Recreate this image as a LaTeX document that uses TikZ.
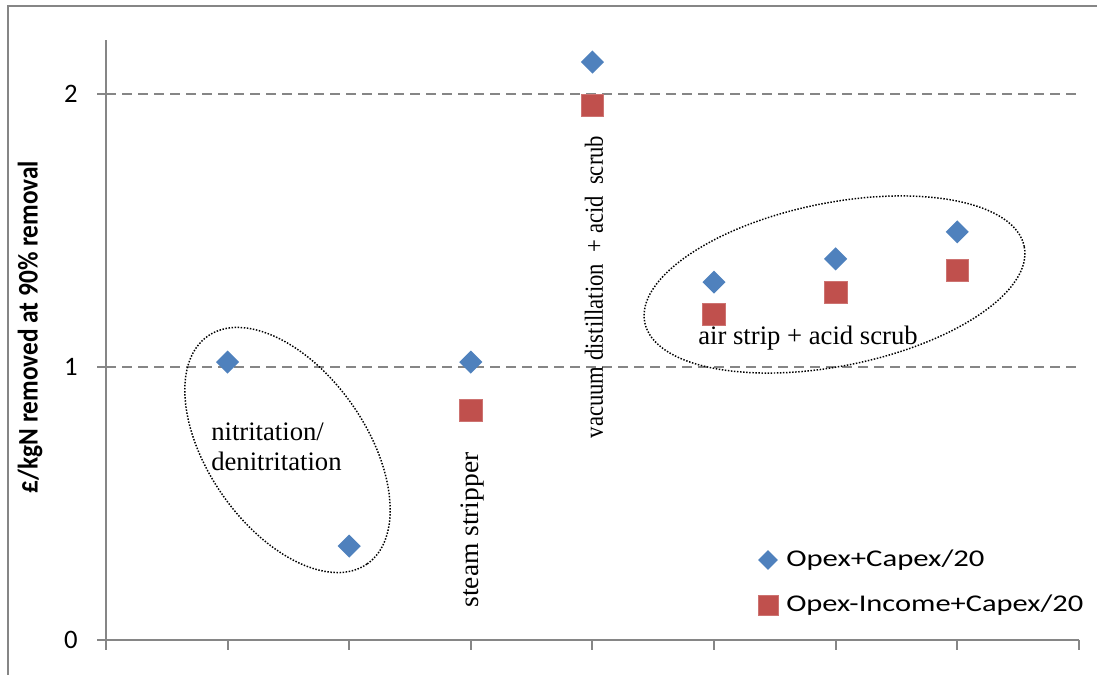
\documentclass[tikz,border=0pt]{standalone}
\usepackage{fontspec}
\setmainfont{Liberation Serif}
\newfontfamily\calib{Carlito}
\usetikzlibrary{shapes.geometric}
\definecolor{axisgray}{HTML}{868686}
\definecolor{seriesblue}{HTML}{4F81BD}
\definecolor{seriesred}{HTML}{C0504D}

\begin{document}
\begin{tikzpicture}[x=0.75pt, y=0.75pt,
  axisline/.style={draw=axisgray, line width=1.5pt},
  gridline/.style={draw=axisgray, line width=1.4pt, dash pattern=on 7.5pt off 4.5pt},
  bluemark/.style={diamond, fill=seriesblue, inner sep=0pt, minimum width=17.5pt, minimum height=17.5pt},
  redmark/.style={rectangle, fill=seriesred, draw=seriesred!80!white, line width=0.5pt, inner sep=0pt, minimum width=17pt, minimum height=16.5pt},
  groupring/.style={ellipse, draw=black, line width=1.1pt, dash pattern=on 1.1pt off 1.2pt, inner sep=0pt},
  ticklabel/.style={anchor=east, inner sep=0pt, font=\calib\fontsize{20}{24}\selectfont},
  legendtext/.style={anchor=west, inner sep=0pt, font=\calib\fontsize{18}{22}\selectfont},
  note/.style={inner sep=0pt, font=\fontsize{20}{22.5}\selectfont}
]
\useasboundingbox (0,0) rectangle (1097,675);
\clip (0,0) rectangle (1097,675);

% outer chart frame (runs past the right and bottom edges)
\draw[axisgray, line width=1.5pt] (8,-20) -- (8,669) -- (1120,669);

% horizontal grid lines at 1 and 2
\draw[gridline] (106,308) -- (1077,308);
\draw[gridline] (106,581) -- (1077,581);

% axes and ticks
\draw[axisline] (106,25) -- (106,635);
\draw[axisline] (106,35) -- (1079,35);
\foreach \yy in {35,308,581} \draw[axisline] (97,\yy) -- (106,\yy);
\foreach \k in {1,...,8} \draw[axisline] ({106+121.6*\k},35) -- ({106+121.6*\k},25);

% tick labels
\node[ticklabel] (y0) at (78,35) {0};
\node[ticklabel] (y1) at (78,308) {1};
\node[ticklabel] (y2) at (78,581) {2};

% axis title
\node[rotate=90, inner sep=0pt] (ytitle) at (30,348)
  {\calib\bfseries\fontsize{19}{23}\selectfont\scalebox{1}[1.12]{£/kgN removed at 90\% removal}};

% data points, in axis units (x: category, y: £/kgN)
\begin{scope}[shift={(106,35)}, x=91.2pt, y=204.75pt]
  \node[bluemark] (b1) at (1,1.018) {};
  \node[bluemark] (b2) at (2,0.344) {};
  \node[bluemark] (b3) at (3,1.018) {};
  \node[bluemark] (b4) at (4,2.117) {};
  \node[bluemark] (b5) at (5,1.311) {};
  \node[bluemark] (b6) at (6,1.396) {};
  \node[bluemark] (b7) at (7,1.495) {};
  \node[redmark] (r3) at (3,0.842) {};
  \node[redmark] (r4) at (4,1.960) {};
  \node[redmark] (r5) at (5,1.194) {};
  \node[redmark] (r6) at (6,1.275) {};
  \node[redmark] (r7) at (7,1.355) {};
\end{scope}

% group outlines
\node[groupring, rotate=-55, minimum width=208.5pt, minimum height=118.5pt] (ring1) at (287.5,225) {};
\node[groupring, rotate=11.3, minimum width=290.25pt, minimum height=122.4pt] (ring2) at (834.5,390.5) {};

% process annotations
\node[note, anchor=west, align=left] (nit) at (211,228) {nitritation/\\denitritation};
\node[note] (air) at (808,337) {air strip + acid scrub};
\node[note, rotate=90] (steam) at (473,145) {\scalebox{1.03}[1]{steam stripper}};
\node[note, rotate=90, font=\fontsize{17}{20}\selectfont] (vac) at (594,388) {\scalebox{1}[1.15]{vacuum distillation~ + acid~ scrub}};

% legend
\node[bluemark, minimum width=15pt, minimum height=15pt] (lb) at (768,115) {};
\node[redmark, minimum width=15pt, minimum height=15pt] (lr) at (768,70) {};
\node[legendtext] (lbt) at (786,115) {\scalebox{1.28}[1]{Opex+Capex/20}};
\node[legendtext] (lrt) at (786,70) {\scalebox{1.27}[1]{Opex-Income+Capex/20}};
\end{tikzpicture}
\end{document}
